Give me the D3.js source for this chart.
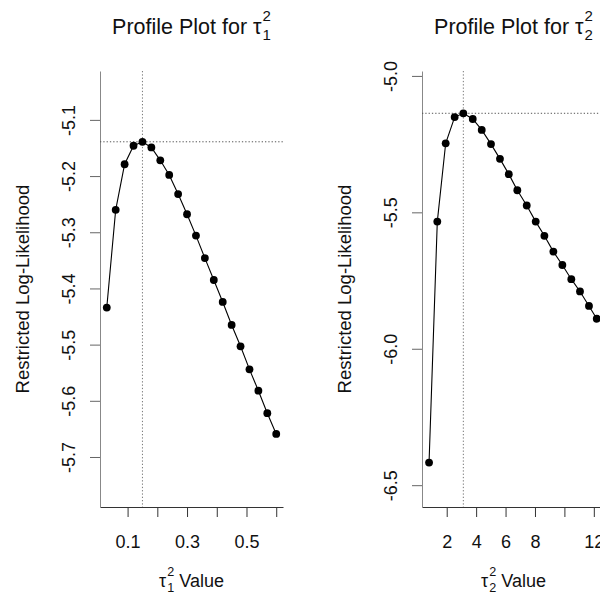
<!DOCTYPE html>
<html>
<head>
<meta charset="utf-8">
<script src="https://cdn.jsdelivr.net/npm/d3@7/dist/d3.min.js"></script>
<style>
  body { margin: 0; background: #fff; }
  svg { display: block; font-family: "Liberation Sans", Arial, sans-serif; }
</style>
</head>
<body>
<div id="chart"></div>
<script>
// Perfil de tau1^2
const tau1Values = [0.03, 0.06, 0.09, 0.12, 0.15, 0.18, 0.21, 0.24, 0.27, 0.30,
                    0.33, 0.36, 0.39, 0.42, 0.45, 0.48, 0.51, 0.54, 0.57, 0.60];
const tau1LogLik = [-5.434, -5.260, -5.179, -5.146, -5.139, -5.149, -5.172, -5.198, -5.232, -5.268,
                    -5.306, -5.346, -5.385, -5.424, -5.465, -5.503, -5.544, -5.582, -5.622, -5.659];
const tau1XTicks = [0.1, 0.2, 0.3, 0.4, 0.5, 0.6];
const tau1XLabels = ['0.1', '', '0.3', '', '0.5', ''];
const tau1YTicks = [-5.1, -5.2, -5.3, -5.4, -5.5, -5.6, -5.7];
const tau1YLabels = ['-5.1', '-5.2', '-5.3', '-5.4', '-5.5', '-5.6', '-5.7'];

// Perfil de tau2^2
const tau2Values = [0.80, 1.36, 1.93, 2.54, 3.13, 3.77, 4.38, 5.01, 5.62, 6.22,
                    6.80, 7.44, 8.05, 8.64, 9.25, 9.86, 10.47, 11.06, 11.67, 12.20];
const tau2LogLik = [-6.417, -5.534, -5.247, -5.151, -5.137, -5.158, -5.198, -5.250, -5.304, -5.360,
                    -5.419, -5.475, -5.534, -5.586, -5.644, -5.693, -5.745, -5.790, -5.843, -5.890];
const tau2XTicks = [2, 4, 6, 8, 10, 12];
const tau2XLabels = ['2', '4', '6', '8', '', '12'];
const tau2YTicks = [-5.0, -5.5, -6.0, -6.5];
const tau2YLabels = ['-5.0', '-5.5', '-6.0', '-6.5'];

const yTitle = 'Restricted Log-Likelihood';

const svg = d3.select('#chart')
  .append('svg')
  .attr('width', 600)
  .attr('height', 595);

/** Escreve um texto com tau_i^2 (sub e sobrescrito empilhados) centrado em cx */
function tauText(parent, cx, baseline, before, index, after, size) {
  const g = parent.append('g').attr('fill', '#111');
  const main = g.append('text')
    .attr('x', 0).attr('y', baseline)
    .attr('font-size', size)
    .text(before + 'τ');
  let w = main.node().getComputedTextLength() + 1;
  const small = size * 0.7;
  const sup = g.append('text')
    .attr('x', w).attr('y', baseline - size * 0.6)
    .attr('font-size', small).text('2');
  const sub = g.append('text')
    .attr('x', w).attr('y', baseline + size * 0.3)
    .attr('font-size', small).text(index);
  w += Math.max(sup.node().getComputedTextLength(), sub.node().getComputedTextLength());
  if (after) {
    w += size * 0.28; // espaço antes do texto
    const t = g.append('text')
      .attr('x', w).attr('y', baseline)
      .attr('font-size', size)
      .text(after);
    w += t.node().getComputedTextLength();
  }
  g.attr('transform', `translate(${cx - w / 2},0)`);
}

/** Desenha um painel de perfil */
function drawPanel(cfg) {
  const g = svg.append('g');

  const x = d3.scaleLinear().domain(cfg.xDomain).range([cfg.left, cfg.right]);
  const y = d3.scaleLinear().domain(cfg.yDomain).range([cfg.bottom, cfg.top]);

  // Eixo x
  const xAxis = g.append('g')
    .attr('transform', `translate(0,${cfg.bottom})`)
    .call(d3.axisBottom(x)
      .tickValues(cfg.xTicks)
      .tickFormat((d, i) => cfg.xLabels[i])
      .tickSize(10)
      .tickSizeOuter(0)
      .tickPadding(18));
  xAxis.select('.domain').attr('stroke', '#333');
  xAxis.selectAll('.tick line').attr('stroke', '#333');
  xAxis.selectAll('.tick text')
    .attr('font-size', 18)
    .attr('fill', '#111');

  // Eixo y com rótulos rotacionados
  const yAxis = g.append('g')
    .attr('transform', `translate(${cfg.left},0)`)
    .call(d3.axisLeft(y)
      .tickValues(cfg.yTicks)
      .tickFormat((d, i) => cfg.yLabels[i])
      .tickSize(10)
      .tickSizeOuter(0));
  yAxis.select('.domain').attr('stroke', '#888');
  yAxis.selectAll('.tick line').attr('stroke', '#666');
  yAxis.selectAll('.tick text')
    .attr('font-size', 18)
    .attr('fill', '#111')
    .attr('text-anchor', 'middle')
    .attr('transform', 'rotate(-90)')
    .attr('x', 0)
    .attr('y', -25)
    .attr('dy', null);
  xAxis.attr('font-family', null);
  yAxis.attr('font-family', null);

  // Linhas pontilhadas no máximo
  const iMax = d3.maxIndex(cfg.ys);
  g.append('line')
    .attr('x1', cfg.left).attr('x2', cfg.right)
    .attr('y1', y(cfg.ys[iMax])).attr('y2', y(cfg.ys[iMax]))
    .attr('stroke', '#555').attr('stroke-dasharray', '1.3,2');
  g.append('line')
    .attr('x1', x(cfg.xs[iMax])).attr('x2', x(cfg.xs[iMax]))
    .attr('y1', cfg.top).attr('y2', cfg.bottom)
    .attr('stroke', '#777').attr('stroke-dasharray', '1.3,2');

  // Linha e pontos
  const pts = cfg.xs.map((v, i) => [v, cfg.ys[i]]);
  g.append('path')
    .datum(pts)
    .attr('fill', 'none')
    .attr('stroke', '#000')
    .attr('stroke-width', 1.1)
    .attr('d', d3.line().x(d => x(d[0])).y(d => y(d[1])));
  g.selectAll('.pt')
    .data(pts)
    .enter()
    .append('circle')
    .attr('class', 'pt')
    .attr('cx', d => x(d[0]))
    .attr('cy', d => y(d[1]))
    .attr('r', 3.9)
    .attr('fill', '#000');

  // Títulos
  const cx = (cfg.left + cfg.right) / 2;
  tauText(svg, cx, 34, 'Profile Plot for ', cfg.index, null, 21.5);
  tauText(svg, cx, 587, '', cfg.index, 'Value', 18);

  svg.append('text')
    .attr('transform', `translate(${cfg.left - 71},${(cfg.top + cfg.bottom) / 2}) rotate(-90)`)
    .attr('text-anchor', 'middle')
    .attr('font-size', 18.5)
    .attr('fill', '#111')
    .text(yTitle);
}

drawPanel({
  xs: tau1Values, ys: tau1LogLik, index: '1',
  xTicks: tau1XTicks, xLabels: tau1XLabels, yTicks: tau1YTicks, yLabels: tau1YLabels,
  xDomain: [0.0072, 0.6228], yDomain: [-5.789, -5.013],
  left: 100, right: 283, top: 71, bottom: 507
});

drawPanel({
  xs: tau2Values, ys: tau2LogLik, index: '2',
  xTicks: tau2XTicks, xLabels: tau2XLabels, yTicks: tau2YTicks, yLabels: tau2YLabels,
  xDomain: [0.32, 12.76], yDomain: [-6.580, -4.982],
  left: 422, right: 605, top: 71, bottom: 507
});
</script>
</body>
</html>
